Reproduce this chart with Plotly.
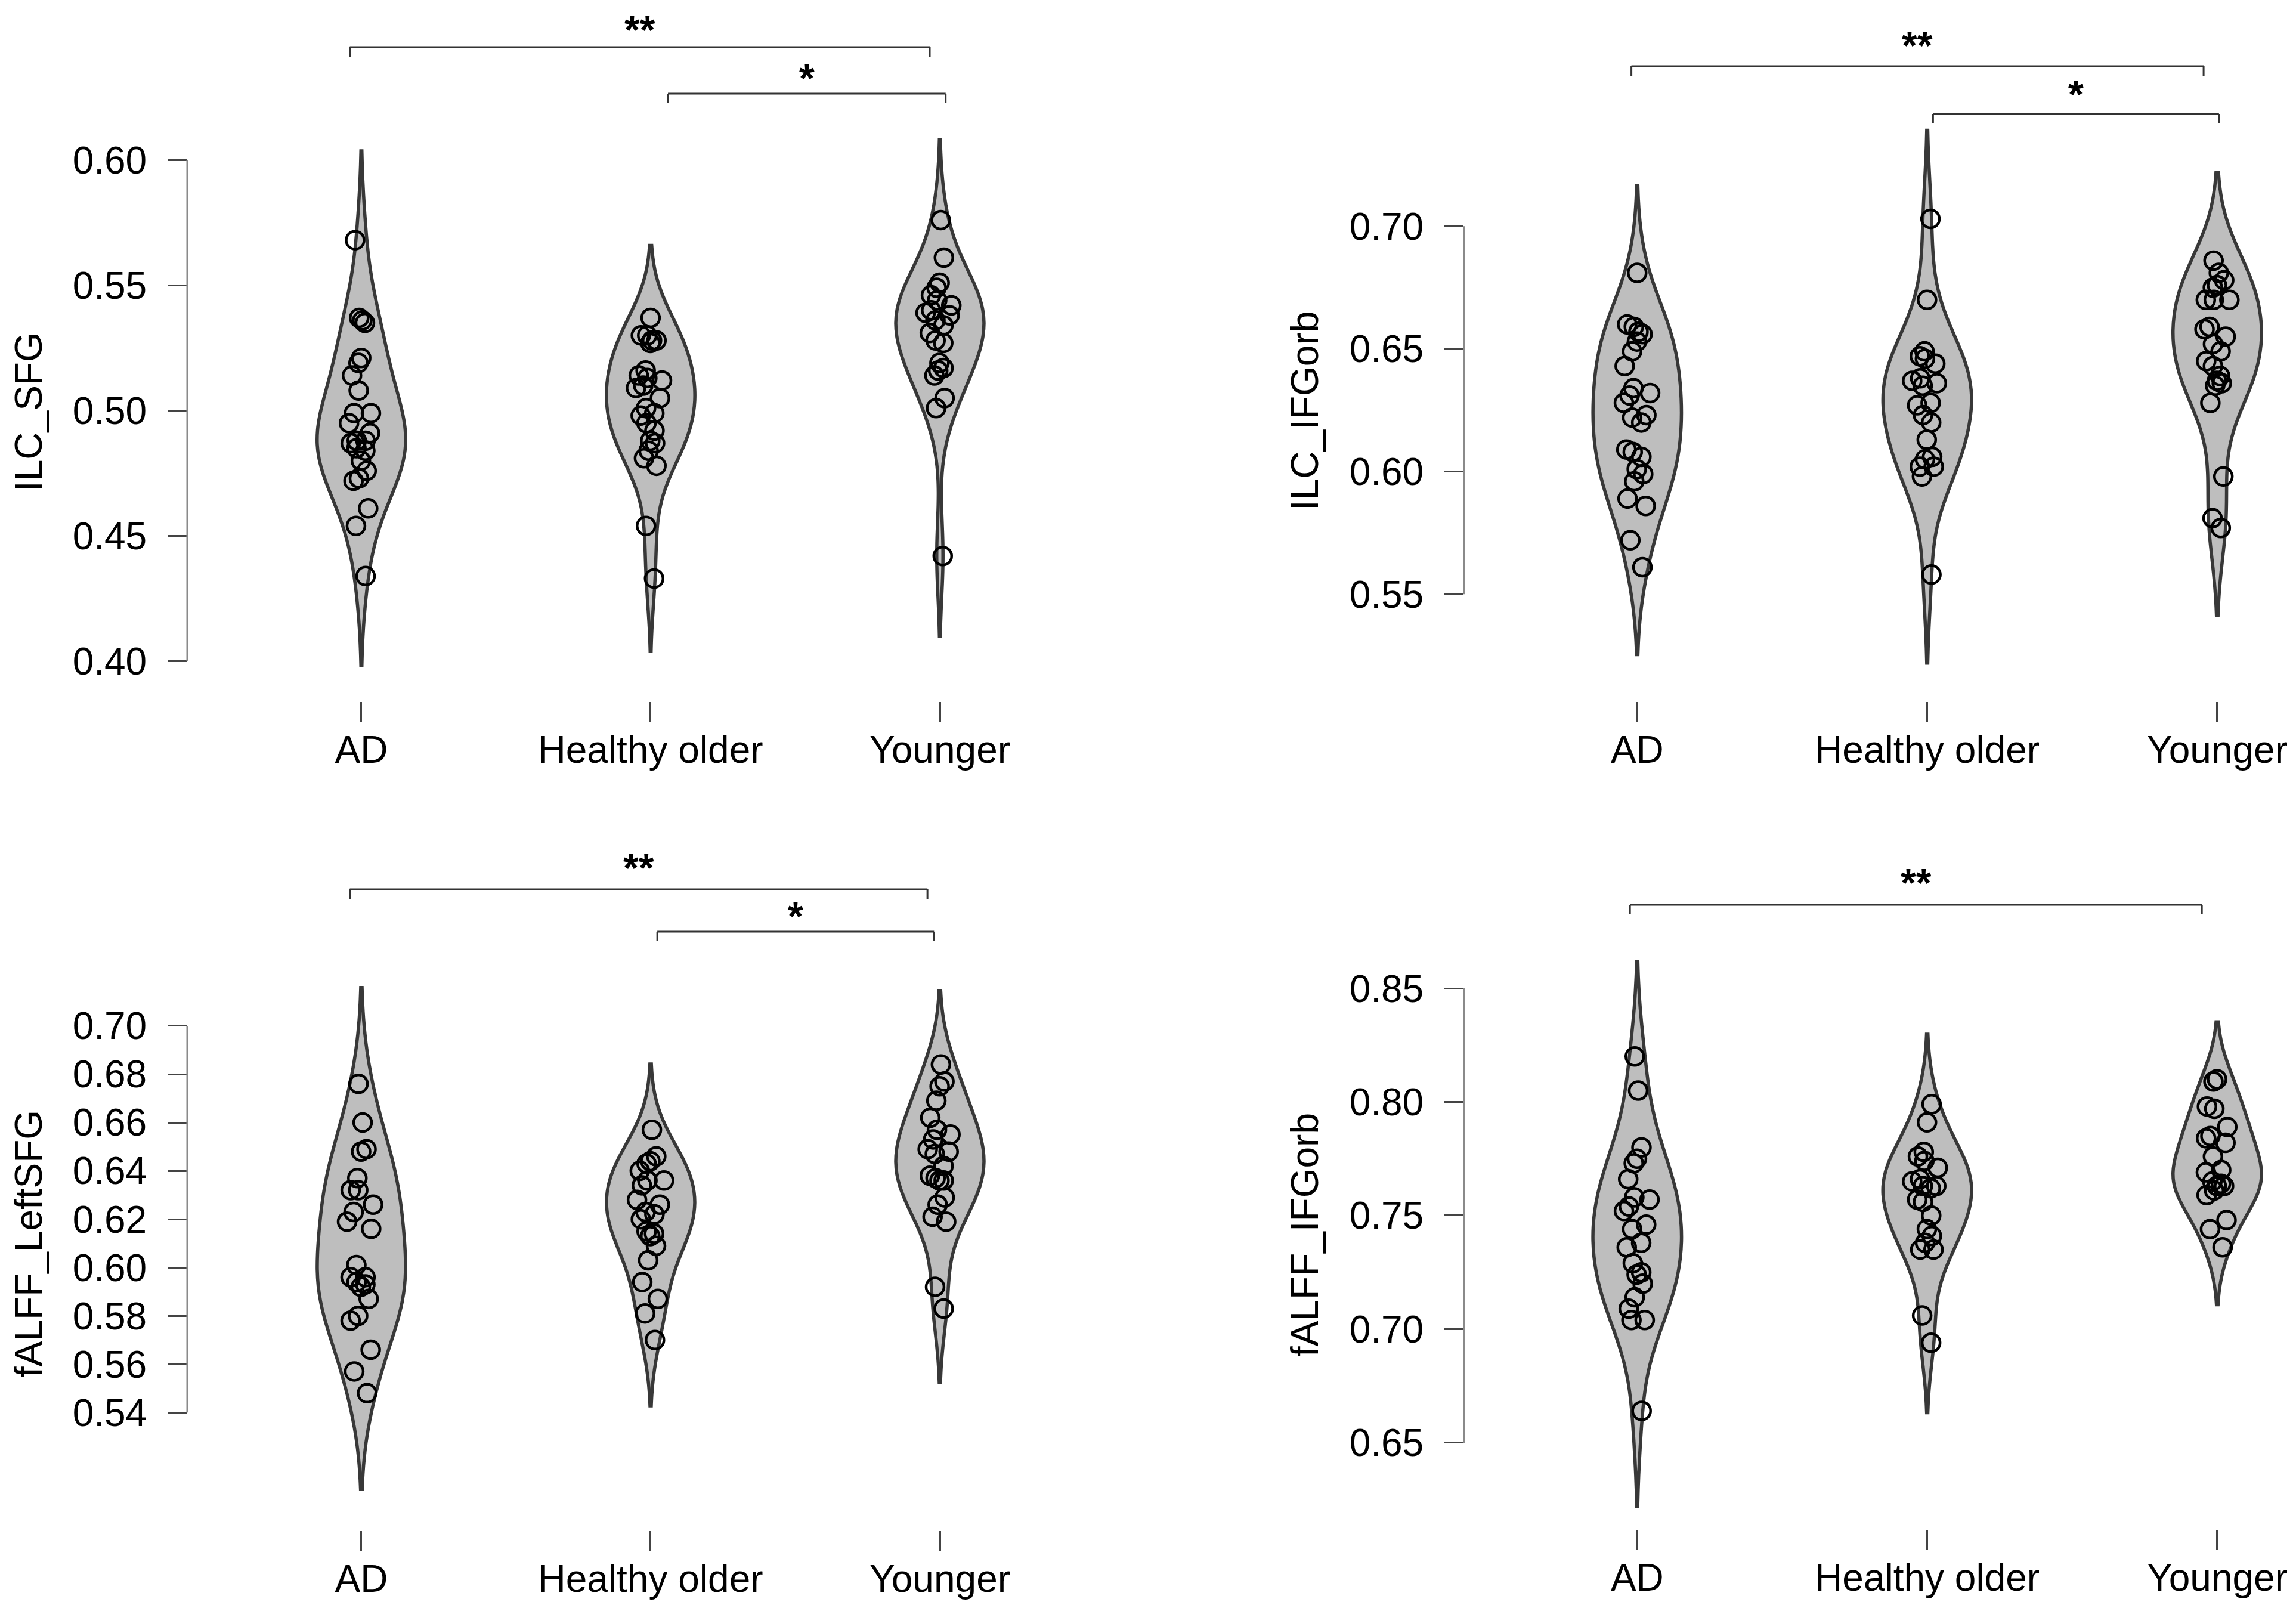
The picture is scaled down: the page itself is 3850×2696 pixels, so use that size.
import plotly.graph_objects as go
import numpy as np

W, H = 3850, 2696

groups = ["AD", "Healthy older", "Younger"]
group_pos = [0, 1, 2]

# ILC_SFG
ilc_sfg_ad = [0.568, 0.537, 0.536, 0.535, 0.521, 0.519, 0.514, 0.508, 0.499, 0.499, 0.495, 0.491,
              0.488, 0.488, 0.487, 0.485, 0.484, 0.480, 0.476, 0.473, 0.472, 0.461, 0.454, 0.434]
ilc_sfg_ho = [0.537, 0.530, 0.530, 0.528, 0.528, 0.527, 0.516, 0.514, 0.513, 0.512, 0.510, 0.509, 0.505,
              0.501, 0.499, 0.498, 0.495, 0.492, 0.488, 0.487, 0.484, 0.481, 0.478, 0.454, 0.433]
ilc_sfg_yg = [0.576, 0.561, 0.551, 0.549, 0.546, 0.544, 0.542, 0.540, 0.539, 0.538, 0.536, 0.534,
              0.531, 0.528, 0.527, 0.519, 0.517, 0.516, 0.514, 0.505, 0.501, 0.442]

# ILC_IFGorb
ilc_ifg_ad = [0.681, 0.660, 0.659, 0.657, 0.656, 0.653, 0.649, 0.643, 0.634, 0.632, 0.631, 0.628, 0.623,
              0.622, 0.620, 0.609, 0.608, 0.606, 0.601, 0.599, 0.596, 0.589, 0.586, 0.572, 0.561]
ilc_ifg_ho = [0.703, 0.670, 0.649, 0.647, 0.646, 0.644, 0.638, 0.637, 0.636, 0.635, 0.628, 0.627,
              0.623, 0.620, 0.613, 0.606, 0.605, 0.602, 0.602, 0.598, 0.558]
ilc_ifg_yg = [0.686, 0.681, 0.678, 0.676, 0.675, 0.670, 0.670, 0.670, 0.659, 0.658, 0.655, 0.652,
              0.649, 0.645, 0.643, 0.639, 0.637, 0.636, 0.635, 0.628, 0.598, 0.581, 0.577]

# fALFF_LeftSFG
falff_sfg_ad = [0.676, 0.660, 0.649, 0.648, 0.637, 0.632, 0.632, 0.626, 0.623, 0.619, 0.616, 0.601,
                0.596, 0.596, 0.594, 0.593, 0.592, 0.587, 0.580, 0.578, 0.566, 0.557, 0.548]
falff_sfg_ho = [0.657, 0.646, 0.644, 0.643, 0.640, 0.636, 0.636, 0.634, 0.628, 0.626, 0.623, 0.622,
                0.620, 0.615, 0.614, 0.613, 0.609, 0.603, 0.594, 0.587, 0.581, 0.570]
falff_sfg_yg = [0.684, 0.677, 0.675, 0.669, 0.662, 0.657, 0.655, 0.653, 0.649, 0.648, 0.647, 0.642,
                0.638, 0.637, 0.636, 0.636, 0.629, 0.626, 0.621, 0.619, 0.592, 0.583]

# fALFF_IFGorb
falff_ifg_ad = [0.820, 0.805, 0.780, 0.775, 0.773, 0.766, 0.758, 0.757, 0.754, 0.752, 0.746, 0.744,
                0.738, 0.736, 0.729, 0.725, 0.724, 0.720, 0.714, 0.709, 0.704, 0.704, 0.664]
falff_ifg_ho = [0.799, 0.791, 0.778, 0.776, 0.774, 0.771, 0.766, 0.765, 0.763, 0.763, 0.762, 0.757,
                0.756, 0.750, 0.744, 0.741, 0.738, 0.735, 0.735, 0.706, 0.694]
falff_ifg_yg = [0.810, 0.809, 0.798, 0.797, 0.789, 0.785, 0.784, 0.782, 0.776, 0.770, 0.769, 0.765,
                0.764, 0.763, 0.763, 0.761, 0.759, 0.748, 0.744, 0.736]

titles = ["ILC_SFG", "ILC_IFGorb", "fALFF_LeftSFG", "fALFF_IFGorb"]
ytick_sets = [
    [0.40, 0.45, 0.50, 0.55, 0.60],
    [0.55, 0.60, 0.65, 0.70],
    [0.54, 0.56, 0.58, 0.60, 0.62, 0.64, 0.66, 0.68, 0.70],
    [0.65, 0.70, 0.75, 0.80, 0.85],
]
series = [
    [ilc_sfg_ad, ilc_sfg_ho, ilc_sfg_yg],
    [ilc_ifg_ad, ilc_ifg_ho, ilc_ifg_yg],
    [falff_sfg_ad, falff_sfg_ho, falff_sfg_yg],
    [falff_ifg_ad, falff_ifg_ho, falff_ifg_yg],
]
# significance brackets: (x_start, x_end, label) per panel
brackets = [
    [(-0.04, 1.965, "**"), (1.06, 2.02, "*")],
    [(-0.02, 1.953, "**"), (1.02, 2.006, "*")],
    [(-0.04, 1.957, "**"), (1.023, 1.98, "*")],
    [(-0.025, 1.947, "**")],
]

# layout in pixels of the 3850x2696 canvas
layout_px = [
    dict(left=306, right=1762, top=0, bottom=1168, yr=[0.384, 0.6619], title_xy=(40, 683),
         br_y=[71, 149], star_y=[38, 119], xr=[-0.602, 2.4]),
    dict(left=2447, right=3850, top=0, bottom=1168, yr=[0.5063, 0.7903], title_xy=(2180, 681),
         br_y=[103, 183], star_y=[64, 146], xr=[-0.597, 2.288]),
    dict(left=306, right=1762, top=1400, bottom=2558, yr=[0.4912, 0.777], title_xy=(40, 2077),
         br_y=[1483, 1554], star_y=[1443, 1524], xr=[-0.602, 2.4]),
    dict(left=2447, right=3850, top=1400, bottom=2556, yr=[0.6119, 0.9154], title_xy=(2180, 2063),
         br_y=[1509], star_y=[1468], xr=[-0.597, 2.288]),
]

FONT = "Liberation Sans, Arial, sans-serif"
fig = go.Figure()
shapes, annotations = [], []

for i, (vals3, lp) in enumerate(zip(series, layout_px)):
    n = "" if i == 0 else str(i + 1)
    for pos, vals in zip(group_pos, vals3):
        # normal-reference bandwidth (sd based), a bit wider than plotly's default
        bw = 1.12 * np.std(vals, ddof=1) * len(vals) ** (-0.2)
        fig.add_trace(go.Violin(
            x=[pos] * len(vals), y=vals, xaxis="x" + n, yaxis="y" + n,
            width=0.305, scalemode="width", spanmode="soft", side="both", bandwidth=bw,
            fillcolor="#bebebe", line=dict(color="#383838", width=5.5),
            points="all", pointpos=0, jitter=0.35,
            marker=dict(symbol="circle-open", size=30, color="black",
                        line=dict(color="black", width=4.5)),
            box_visible=False, meanline_visible=False, showlegend=False, hoverinfo="skip"))

    fig.update_layout({
        "xaxis" + n: dict(domain=[lp["left"] / W, lp["right"] / W], range=lp["xr"], anchor="y" + n,
                          tickvals=group_pos, ticktext=groups, ticks="outside", ticklen=33,
                          tickwidth=3, tickcolor="#444", showline=False, showgrid=False,
                          zeroline=False, ticklabelstandoff=-8,
                          tickfont=dict(family=FONT, size=64, color="black")),
        "yaxis" + n: dict(domain=[1 - lp["bottom"] / H, 1 - lp["top"] / H], range=lp["yr"],
                          anchor="x" + n, tickvals=ytick_sets[i], tickformat=".2f",
                          ticks="outside", ticklen=32, tickwidth=3, tickcolor="#444",
                          showline=False, showgrid=False, zeroline=False, ticklabelstandoff=22,
                          tickfont=dict(family=FONT, size=64, color="black")),
    })

    # R-style y axis line spanning only the tick range
    shapes.append(dict(type="line", xref="x" + n + " domain", yref="y" + n, x0=0, x1=0,
                       y0=ytick_sets[i][0], y1=ytick_sets[i][-1],
                       line=dict(color="#8a8a8a", width=3)))

    annotations.append(dict(text=titles[i], x=lp["title_xy"][0] / W, y=1 - lp["title_xy"][1] / H,
                            xref="paper", yref="paper", showarrow=False, textangle=-90,
                            xanchor="center", yanchor="middle",
                            font=dict(family=FONT, size=64, color="black")))

    for (x0, x1, lab), by, sy in zip(brackets[i], lp["br_y"], lp["star_y"]):
        yl = 1 - by / H
        yd = 1 - (by + 16) / H
        for xa, xb, ya, yb in [(x0, x1, yl, yl), (x0, x0, yl, yd), (x1, x1, yl, yd)]:
            shapes.append(dict(type="line", xref="x" + n, yref="paper", x0=xa, x1=xb, y0=ya, y1=yb,
                               line=dict(color="#333", width=3)))
        annotations.append(dict(text="<b>" + lab + "</b>", x=(x0 + x1) / 2, y=1 - (sy + 4) / H,
                                xref="x" + n, yref="paper", showarrow=False, xanchor="center",
                                yanchor="middle", font=dict(family=FONT, size=66, color="black")))

fig.update_layout(width=W, height=H, autosize=False, margin=dict(l=0, r=0, t=0, b=0),
                  paper_bgcolor="white", plot_bgcolor="white", violinmode="overlay",
                  shapes=shapes, annotations=annotations, showlegend=False)

fig.write_html("out.html")
